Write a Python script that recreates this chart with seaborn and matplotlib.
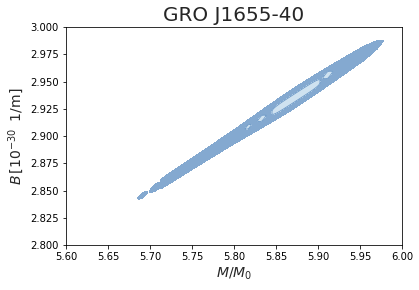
import numpy as np
import matplotlib
matplotlib.use("Agg")
import matplotlib.pyplot as plt
import seaborn as sns

# ------------------ Daten ------------------
title = "GRO J1655-40"

# Mittellinie des Konfidenzbandes: M/M0, B, halbe Dicke (in B)
band_m = [5.713, 5.730, 5.760, 5.800, 5.840, 5.870, 5.900, 5.930, 5.955, 5.970, 5.978]
band_b = [2.8560, 2.8645, 2.8794, 2.8992, 2.9190, 2.9339, 2.9488, 2.9637, 2.9760, 2.9835, 2.9875]
band_hw = [0.0045, 0.0050, 0.0055, 0.0065, 0.0085, 0.0095, 0.0090, 0.0078, 0.0065, 0.0040, 0.0005]

# Inseln ausserhalb des Bandes (aeusserer Bereich)
isl_m = [5.6913, 5.7071]
isl_b = [2.8456, 2.8529]
isl_a = [0.0062, 0.0080]
isl_h = [0.0024, 0.0032]

# innere (helle) Bereiche
core_m = [5.8738, 5.9115, 5.8330, 5.8170]
core_b = [2.9358, 2.9560, 2.9162, 2.9085]
core_a = [0.0286, 0.0060, 0.0052, 0.0038]
core_h = [0.0037, 0.0031, 0.0026, 0.0019]
core_p = [4.0, 1.2, 1.2, 1.2]

slope = 0.496  # Neigung des Bandes

# ------------------ Feld auf Gitter ------------------
M, B = np.meshgrid(np.linspace(5.6, 6.0, 900), np.linspace(2.8, 3.0, 900))

centre = np.interp(M, band_m, band_b)
hw = np.interp(M, band_m, band_hw)
outer = 1 - np.abs(B - centre) / hw
outer[(M < band_m[0]) | (M > band_m[-1])] = -1

for m0, b0, a, h in zip(isl_m, isl_b, isl_a, isl_h):
    dm = M - m0
    db = B - b0 - slope * dm
    outer = np.maximum(outer, 1 - (np.abs(dm) / a) ** 1.5 - (np.abs(db) / h) ** 1.5)

inner = np.full_like(M, -1.0)
for m0, b0, a, h, p in zip(core_m, core_b, core_a, core_h, core_p):
    dm = M - m0
    db = B - b0 - slope * dm
    inner = np.maximum(inner, 1 - (np.abs(dm) / a) ** p - (np.abs(db) / h) ** p)

# ------------------ Plot ------------------
sns.set_style("ticks")
plt.rcParams['font.family'] = ['DejaVu Sans']

fig = plt.figure(figsize=(419 / 72, 290 / 72), dpi=72)
ax = fig.add_axes([66 / 419, 45 / 290, 336 / 419, 218 / 290])

ax.contourf(M, B, outer, levels=[0, 10], colors=['#84a9d0'])
ax.contourf(M, B, inner, levels=[0, 10], colors=['#cfe2f0'])
ax.contour(M, B, inner, levels=[0], colors=['#6e9ac8'], linewidths=0.9)

ax.set_xlim(5.6, 6.0)
ax.set_ylim(2.8, 3.0)
ax.set_xticks(np.arange(5.60, 6.001, 0.05))
ax.set_yticks(np.arange(2.800, 3.0001, 0.025))
ax.tick_params(labelsize=10, colors='black', direction='out', length=3.5)
for s in ax.spines.values():
    s.set_color('black')
    s.set_linewidth(0.8)

ax.set_title(title, fontsize=20)
ax.set_xlabel(r'$M/M_0$', fontsize=14)
ax.set_ylabel(r'$B\,[10^{-30}\;\;1/\mathrm{m}]$', fontsize=14)

fig.savefig("out.png", dpi=72)
